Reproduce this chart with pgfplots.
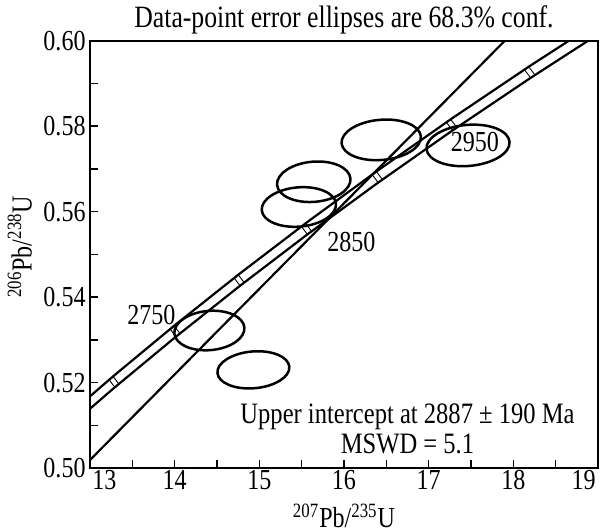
\documentclass[border=0pt]{standalone}
\usepackage{fontspec}
\setmainfont{Liberation Serif}[FakeStretch=0.83]
\usepackage{pgfplots}
\pgfplotsset{compat=1.18}
\usepackage{pgfplotstable}

% concordia with the band drawn either side of it
\pgfplotstableread{
age  x        y        yu       yl
2650 12.5971  0.50845  0.50990  0.50700
2700 13.2834  0.52020  0.52165  0.51875
2750 14.0043  0.53203  0.53348  0.53058
2800 14.7617  0.54396  0.54541  0.54251
2850 15.5572  0.55598  0.55743  0.55453
2900 16.3930  0.56810  0.56955  0.56665
2950 17.2709  0.58031  0.58176  0.57886
3000 18.1931  0.59261  0.59406  0.59116
3050 19.1619  0.60501  0.60646  0.60356
}\concordia

% age ticks on the concordia
\pgfplotstableread{
x        y
13.2834  0.52020
14.0043  0.53203
14.7617  0.54396
15.5572  0.55598
16.3930  0.56810
17.2709  0.58031
18.1931  0.59261
}\agemarks

% small box across the concordia band
\pgfdeclareplotmark{agebox}{%
  \pgfpathmoveto{\pgfqpoint{-1.3pt}{-2.4pt}}\pgfpathlineto{\pgfqpoint{-1.3pt}{2.4pt}}%
  \pgfpathmoveto{\pgfqpoint{1.3pt}{-2.4pt}}\pgfpathlineto{\pgfqpoint{1.3pt}{2.4pt}}%
  \pgfusepathqstroke}

% one error ellipse: centre x, centre y, semi-axis x, semi-axis y (data units), tilt
% (42.35 pt per unit of x, 2138 pt per unit of y)
\newcommand\errell[5]{%
  \pgfmathsetmacro\rxpt{42.35*#3}%
  \pgfmathsetmacro\rypt{2138*#4}%
  \pgfmathsetmacro\rratio{\rxpt/\rypt}%
  \edef\temp{\noexpand\addplot[black, only marks, mark=o,
    mark options={rotate=#5, xscale=\rratio, line width=1.25pt},
    mark size=\rypt pt] coordinates {(#1,#2)};}%
  \temp}

\begin{document}
\begin{tikzpicture}[font=\fontsize{14.5}{17}\selectfont]
\begin{axis}[
  name=ax,
  scale only axis,
  width=254.1pt, height=213.8pt,
  xmin=13, xmax=19, ymin=0.5, ymax=0.6,
  axis line style={line width=1pt},
  tick style={line width=0.8pt, black},
  tick align=inside,
  tick pos=left,
  xtick={13,14,15,16,17,18,19},
  xticklabels={,14,15,16,17,18,},
  minor x tick num=1,
  ytick={0.5,0.52,0.54,0.56,0.58,0.6},
  minor y tick num=1,
  major tick length=4pt, minor tick length=4pt,
  /pgf/number format/assume math mode=true,
  yticklabel style={/pgf/number format/.cd, fixed, fixed zerofill, precision=2, /tikz/.cd, inner sep=2pt},
  xticklabel style={inner sep=1pt},
  xlabel={\textsuperscript{207}Pb/\textsuperscript{235}U},
  ylabel={\textsuperscript{206}Pb/\textsuperscript{238}U},
  xlabel style={at={(axis description cs:0.5,-0.112)}, anchor=center},
  ylabel style={at={(axis description cs:-0.138,0.518)}, anchor=center, rotate=0},
]
% discordia
\addplot[black, line width=1.1pt] coordinates {(13,0.5019) (17.9,0.6)};
% concordia band
\addplot[black, line width=1.1pt] table[x=x, y=yu] {\concordia};
\addplot[black, line width=1.1pt] table[x=x, y=yl] {\concordia};
% age marks
\addplot[black, only marks, mark=agebox, mark options={rotate=37, line width=0.45pt}]
  table[x=x, y=y] {\agemarks};
% error ellipses
\errell{14.41}{0.5322}{0.415}{0.0046}{5}
\errell{14.93}{0.5230}{0.426}{0.0043}{5}
\errell{15.643}{0.5670}{0.435}{0.0047}{5}
\errell{15.467}{0.5611}{0.440}{0.0046}{5}
\errell{16.44}{0.5768}{0.470}{0.0047}{5}
\errell{17.465}{0.5755}{0.492}{0.0048}{5}

\node at (axis cs:13.726,0.5359) {2750};
\node at (axis cs:16.087,0.5530) {2850};
\node at (axis cs:17.545,0.5762) {2950};
\node[font=\fontsize{14.8}{17}\selectfont] at (axis cs:16.75,0.5120) {Upper intercept at 2887 ± 190 Ma};
\node[font=\fontsize{14.8}{17}\selectfont] at (axis cs:16.75,0.5057) {MSWD = 5.1};
\end{axis}
\node[anchor=north west, inner sep=1pt] at (ax.south west) {13};
\node[anchor=north east, inner sep=1pt] at (ax.south east) {19};
\node[font=\fontsize{15.5}{18}\selectfont] at ([yshift=10.2pt]ax.north) {Data-point error ellipses are 68.3\% conf.};
\pgfresetboundingbox
\path[use as bounding box] ([xshift=-45pt,yshift=-31.85pt]ax.south west) rectangle ([xshift=1pt,yshift=20.35pt]ax.north east);
\end{tikzpicture}
\end{document}
